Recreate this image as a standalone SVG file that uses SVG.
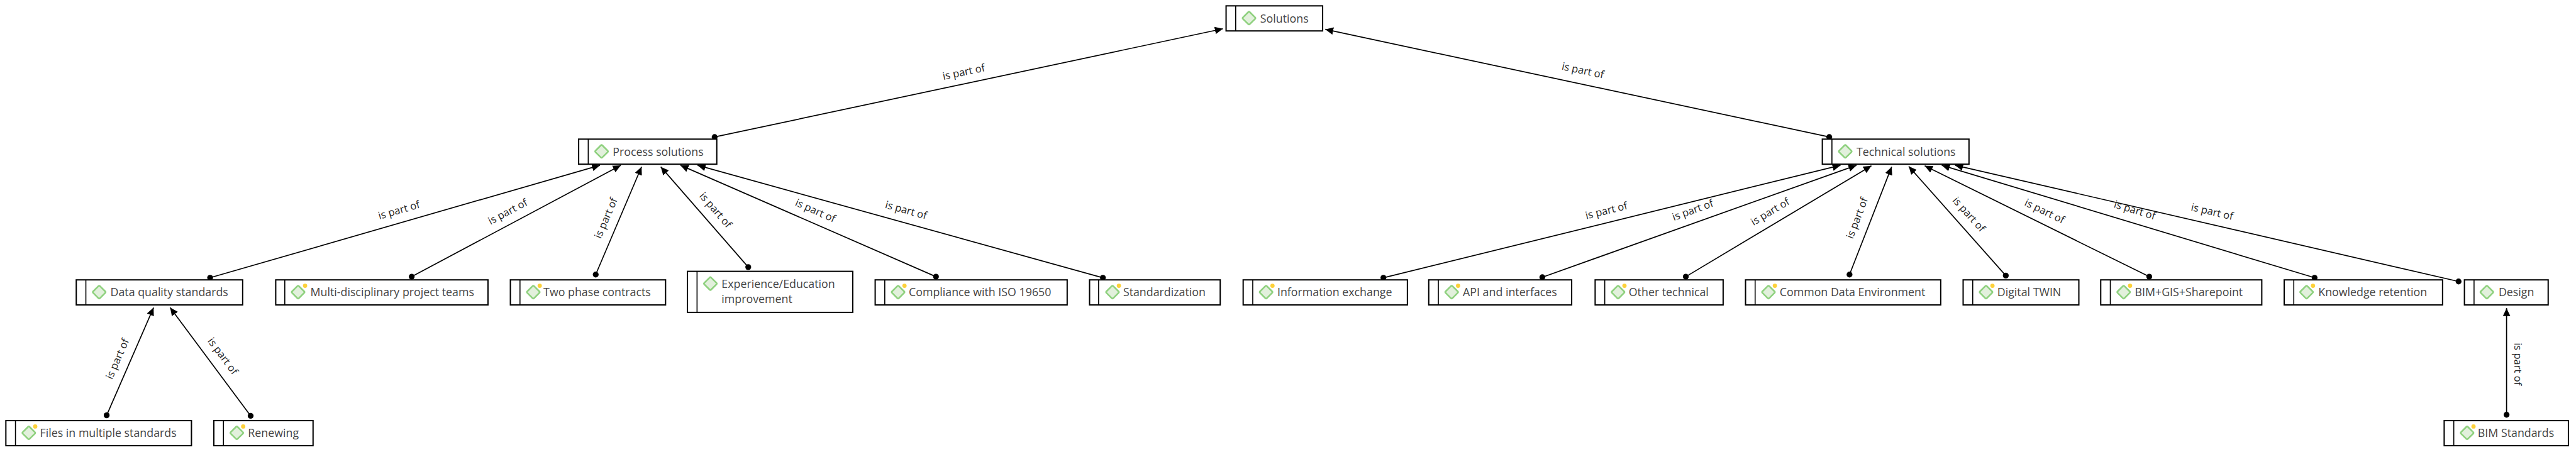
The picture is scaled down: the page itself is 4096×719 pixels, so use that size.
<svg xmlns="http://www.w3.org/2000/svg" width="4096" height="719" viewBox="0 0 4096 719">
<style>
.box{fill:#fff;stroke:#000;stroke-width:2.4}
.div{stroke:#000;stroke-width:1.9}
.t{font-family:"Open Sans","Noto Sans",sans-serif;font-size:21px;fill:#444}
.c{stroke:#000;stroke-width:2;fill:none;marker-end:url(#arr);marker-start:url(#dot)}
.l{font-family:"Open Sans","Noto Sans",sans-serif;font-size:19.5px;fill:#222;text-anchor:middle}
</style>
<defs>
<marker id="arr" markerUnits="userSpaceOnUse" markerWidth="18" markerHeight="16" refX="15" refY="7" orient="auto"><path d="M0 0L15 7L0 14Z" fill="#000"/></marker>
<marker id="dot" markerUnits="userSpaceOnUse" markerWidth="12" markerHeight="12" refX="6" refY="6"><circle cx="6" cy="6" r="5.5" fill="#000"/></marker>
<g id="dia"><rect x="-9" y="-9" width="18" height="18" rx="2" transform="rotate(45)" fill="#e2f0dc" stroke="#8fd17f" stroke-width="3"/></g>
<circle id="y" r="4" fill="#fdd13a"/>
</defs>
<rect width="4096" height="719" fill="#fff"/>
<g transform="scale(0.848)">
<g id="connectors">
<path class="c" d="M1340 257L2293 54"/>
<path class="c" d="M3430 257L2485 55"/>
<path class="c" d="M394 521L1125 310"/>
<path class="c" d="M772 519L1164 310"/>
<path class="c" d="M1117 515L1203 313"/>
<path class="c" d="M1403 501L1239 313"/>
<path class="c" d="M1755 519L1276 310"/>
<path class="c" d="M2068 521L1308 310"/>
<path class="c" d="M2594 521L3451 310"/>
<path class="c" d="M2892 520L3481 310"/>
<path class="c" d="M3161 519L3509 311"/>
<path class="c" d="M3468 515L3547 313"/>
<path class="c" d="M3761 517L3579 312"/>
<path class="c" d="M4030 519L3609 311"/>
<path class="c" d="M4340 521L3641 310"/>
<path class="c" d="M4610 528L3666 310"/>
<path class="c" d="M200 779L288 577"/>
<path class="c" d="M470 780L319 577"/>
<path class="c" d="M4700 778L4700 578"/>
<text class="l" dy=".35em" transform="translate(1807,135) rotate(-12)">is part of</text>
<text class="l" dy=".35em" transform="translate(2968,132) rotate(12)">is part of</text>
<text class="l" dy=".35em" transform="translate(748,394) rotate(-16)">is part of</text>
<text class="l" dy=".35em" transform="translate(952,397) rotate(-28)">is part of</text>
<text class="l" dy=".35em" transform="translate(1136,409) rotate(-67)">is part of</text>
<text class="l" dy=".35em" transform="translate(1342,394) rotate(49)">is part of</text>
<text class="l" dy=".35em" transform="translate(1529,395) rotate(24)">is part of</text>
<text class="l" dy=".35em" transform="translate(1699,394) rotate(15.5)">is part of</text>
<text class="l" dy=".35em" transform="translate(3012,395) rotate(-14)">is part of</text>
<text class="l" dy=".35em" transform="translate(3174,394) rotate(-20)">is part of</text>
<text class="l" dy=".35em" transform="translate(3319,397) rotate(-31)">is part of</text>
<text class="l" dy=".35em" transform="translate(3482,409) rotate(-69)">is part of</text>
<text class="l" dy=".35em" transform="translate(3692,402) rotate(48)">is part of</text>
<text class="l" dy=".35em" transform="translate(3834,396) rotate(26)">is part of</text>
<text class="l" dy=".35em" transform="translate(4003,394) rotate(17)">is part of</text>
<text class="l" dy=".35em" transform="translate(4148,397) rotate(13)">is part of</text>
<text class="l" dy=".35em" transform="translate(220,673) rotate(-66.5)">is part of</text>
<text class="l" dy=".35em" transform="translate(418,668) rotate(53.4)">is part of</text>
<text class="l" dy=".35em" transform="translate(4722,683) rotate(90)">is part of</text>
</g>
<g id="n-solutions"><rect class="box" x="2299" y="11" width="181" height="47"/><path class="div" d="M2317 11V58"/><use href="#dia" x="2342" y="34"/><text class="t" x="2363" y="42">Solutions</text></g>
<g id="n-process"><rect class="box" x="1085" y="261" width="259" height="47"/><path class="div" d="M1103 261V308"/><use href="#dia" x="1128" y="284"/><text class="t" x="1149" y="292">Process solutions</text></g>
<g id="n-technical"><rect class="box" x="3417" y="261" width="275" height="47"/><path class="div" d="M3435 261V308"/><use href="#dia" x="3460" y="284"/><text class="t" x="3481" y="292">Technical solutions</text></g>
<g id="n-data"><rect class="box" x="143" y="525" width="312" height="47"/><path class="div" d="M161 525V572"/><use href="#dia" x="186" y="548"/><text class="t" x="207" y="556">Data quality standards</text></g>
<g id="n-multi"><rect class="box" x="517" y="525" width="398" height="47"/><path class="div" d="M534 525V572"/><use href="#dia" x="559" y="548"/><use href="#y" x="572" y="536"/><text class="t" x="582" y="556">Multi-disciplinary project teams</text></g>
<g id="n-two"><rect class="box" x="957" y="525" width="291" height="47"/><path class="div" d="M975 525V572"/><use href="#dia" x="1000" y="548"/><use href="#y" x="1012" y="536"/><text class="t" x="1019" y="556">Two phase contracts</text></g>
<g id="n-exp"><rect class="box" x="1289" y="509" width="310" height="77"/><path class="div" d="M1307 509V586"/><use href="#dia" x="1332" y="532"/><text class="t" x="1353" y="540">Experience/Education</text><text class="t" x="1353" y="568">improvement</text></g>
<g id="n-iso"><rect class="box" x="1641" y="525" width="360" height="47"/><path class="div" d="M1659 525V572"/><use href="#dia" x="1684" y="548"/><use href="#y" x="1696" y="536"/><text class="t" x="1704" y="556">Compliance with ISO 19650</text></g>
<g id="n-std"><rect class="box" x="2043" y="525" width="245" height="47"/><path class="div" d="M2060 525V572"/><use href="#dia" x="2086" y="548"/><use href="#y" x="2098" y="536"/><text class="t" x="2106" y="556">Standardization</text></g>
<g id="n-info"><rect class="box" x="2331" y="525" width="308" height="47"/><path class="div" d="M2349 525V572"/><use href="#dia" x="2374" y="548"/><use href="#y" x="2386" y="536"/><text class="t" x="2395" y="556">Information exchange</text></g>
<g id="n-api"><rect class="box" x="2679" y="525" width="268" height="47"/><path class="div" d="M2697 525V572"/><use href="#dia" x="2722" y="548"/><use href="#y" x="2734" y="536"/><text class="t" x="2743" y="556">API and interfaces</text></g>
<g id="n-other"><rect class="box" x="2991" y="525" width="240" height="47"/><path class="div" d="M3009 525V572"/><use href="#dia" x="3034" y="548"/><use href="#y" x="3046" y="536"/><text class="t" x="3054" y="556">Other technical</text></g>
<g id="n-cde"><rect class="box" x="3273" y="525" width="366" height="47"/><path class="div" d="M3291 525V572"/><use href="#dia" x="3316" y="548"/><use href="#y" x="3328" y="536"/><text class="t" x="3337" y="556">Common Data Environment</text></g>
<g id="n-twin"><rect class="box" x="3681" y="525" width="217" height="47"/><path class="div" d="M3699 525V572"/><use href="#dia" x="3724" y="548"/><use href="#y" x="3736" y="536"/><text class="t" x="3745" y="556">Digital TWIN</text></g>
<g id="n-gis"><rect class="box" x="3939" y="525" width="302" height="47"/><path class="div" d="M3957 525V572"/><use href="#dia" x="3982" y="548"/><use href="#y" x="3994" y="536"/><text class="t" x="4003" y="556">BIM+GIS+Sharepoint</text></g>
<g id="n-know"><rect class="box" x="4283" y="525" width="297" height="47"/><path class="div" d="M4301 525V572"/><use href="#dia" x="4325" y="548"/><use href="#y" x="4337" y="536"/><text class="t" x="4347" y="556">Knowledge retention</text></g>
<g id="n-design"><rect class="box" x="4621" y="525" width="157" height="47"/><path class="div" d="M4639 525V572"/><use href="#dia" x="4663" y="548"/><text class="t" x="4685" y="556">Design</text></g>
<g id="n-files"><rect class="box" x="11" y="789" width="348" height="47"/><path class="div" d="M29 789V836"/><use href="#dia" x="54" y="812"/><use href="#y" x="66" y="800"/><text class="t" x="75" y="820">Files in multiple standards</text></g>
<g id="n-renew"><rect class="box" x="401" y="789" width="186" height="47"/><path class="div" d="M419 789V836"/><use href="#dia" x="444" y="812"/><use href="#y" x="456" y="800"/><text class="t" x="465" y="820">Renewing</text></g>
<g id="n-bimstd"><rect class="box" x="4583" y="789" width="233" height="47"/><path class="div" d="M4601 789V836"/><use href="#dia" x="4626" y="812"/><use href="#y" x="4638" y="800"/><text class="t" x="4646" y="820">BIM Standards</text></g>
</g>
</svg>
